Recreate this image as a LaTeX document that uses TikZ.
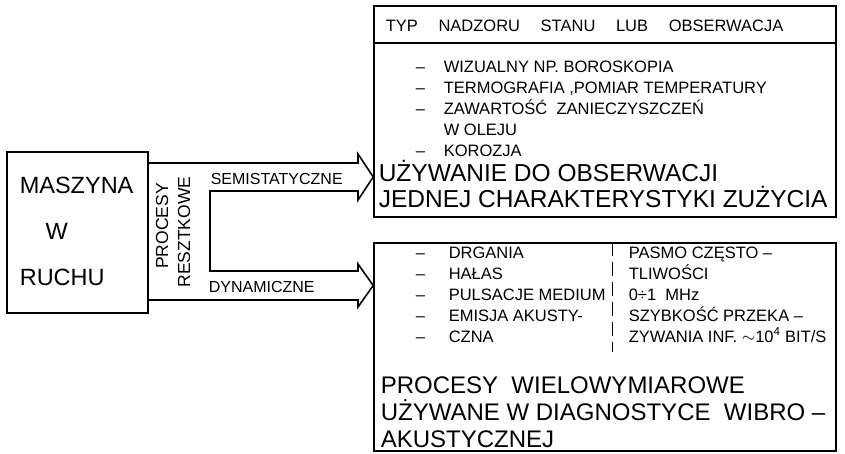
\documentclass[tikz,border=0pt]{standalone}
\usepackage{fontspec}
\setmainfont{Liberation Sans}
\usetikzlibrary{positioning, calc}

\newcommand{\dsh}[1][28pt]{\makebox[#1][l]{--}}
\newcommand{\widewords}{\spaceskip=1.25em\relax}

\begin{document}
\begin{tikzpicture}[
    x=1pt, y=-1pt,
    line width=1.6pt,
    box/.style={rectangle, draw, inner sep=0pt},
    big/.style={inner sep=0pt, anchor=base west, align=left, font=\fontsize{24.5}{26}\selectfont},
    small/.style={inner sep=0pt, anchor=base west, align=left, font=\fontsize{16.5}{21}\selectfont},
    flowlabel/.style={small, font=\fontsize{16}{18}\selectfont},
    sidelabel/.style={small, anchor=base, rotate=90, font=\fontsize{17.5}{20}\selectfont},
    flow/.style={line join=miter},
    divider/.style={line width=1pt, dash pattern=on 14pt off 6pt}
]
\useasboundingbox (0,0) rectangle (845,454);

% machine on the left (text anchored at its last line)
\node[box, minimum width=141pt, minimum height=161pt] (machine) at (77.5,232.5) {};
\node[big, font=\fontsize{23.5}{46}\selectfont] (machinetext) at (19,285) {MASZYNA\\\hspace{1.1em}W\\RUCHU};

% the two observation boxes
\node[box, minimum width=462pt, minimum height=211pt] (obs) at (605,111.5) {};
\node[box, minimum width=462pt, minimum height=208pt] (dyn) at (605,347) {};
\draw (obs.west |- 0,43) -- (obs.east |- 0,43);
\draw[divider] (dyn.north -| 612,0) -- (612,352);

% upper box
\node[small] (head) at (385,32) {\widewords TYP NADZORU STANU LUB OBSERWACJA};
\node[small] (visual) at (415,157) {\dsh WIZUALNY NP. BOROSKOPIA\\ \dsh TERMOGRAFIA ,POMIAR TEMPERATURY\\ \dsh ZAWARTOŚĆ\ \ ZANIECZYSZCZEŃ\\ \hspace*{28pt}W OLEJU\\ \dsh KOROZJA};
\node[big] (single) at (378,208) {UŻYWANIE DO OBSERWACJI\\JEDNEJ CHARAKTERYSTYKI ZUŻYCIA};

% lower box
\node[small] (vib) at (415,342) {\dsh[33pt]DRGANIA\\ \dsh[33pt]HAŁAS\\ \dsh[33pt]PULSACJE MEDIUM\\ \dsh[33pt]EMISJA AKUSTY-\\ \dsh[33pt]CZNA};
\node[small] (band) at (628,342) {PASMO CZĘSTO --\\TLIWOŚCI\\0÷1\ \ MHz\\SZYBKOŚĆ PRZEKA --\\ZYWANIA INF. $\sim$10\textsuperscript{4} BIT/S};
\node[big, font=\fontsize{24}{27}\selectfont] (multi) at (380,447) {PROCESY\ \ WIELOWYMIAROWE\\UŻYWANE W DIAGNOSTYCE\ \ WIBRO --\\AKUSTYCZNEJ};

% branching arrow
\draw[flow] (machine.east |- 0,163) -- (358,163) -- (358,154) -- (obs.west |- 0,177)
    -- (358,200) -- (358,191) -- (210,191) -- (210,271) -- (358,271) -- (358,264)
    -- (dyn.west |- 0,285.5) -- (358,307) -- (358,300) -- (machine.east |- 0,300);
\node[flowlabel] (semi) at (210,185) {SEMISTATYCZNE};
\node[flowlabel] (dynam) at (208,292) {DYNAMICZNE};
\node[sidelabel] (proc) at (168,226) {PROCESY};
\node[sidelabel] (resz) at (190,232) {RESZTKOWE};
\end{tikzpicture}
\end{document}
